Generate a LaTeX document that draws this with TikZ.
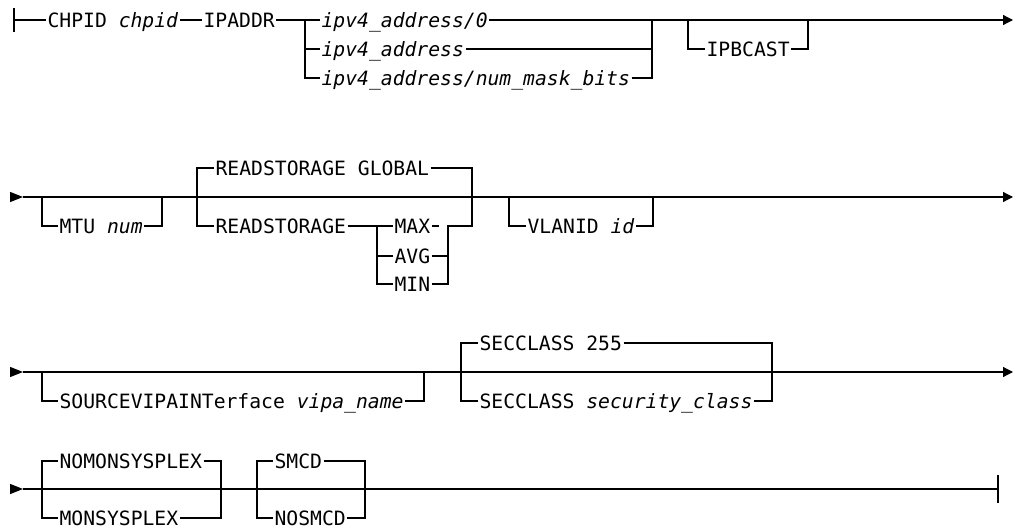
\documentclass[tikz,border=0pt]{standalone}
\usepackage{fontspec}
\newfontfamily\railfont{DejaVu Sans Mono}
\usetikzlibrary{arrows.meta}

\begin{document}
\begin{tikzpicture}[x=1pt,y=-1pt,line width=1.2pt,
  kw/.style={font={\railfont\fontsize{19.7}{20}\selectfont},anchor=west,inner xsep=1pt,inner ysep=0pt,text height=14.4pt,text depth=0pt},
  endtip/.style={-{Triangle[length=10pt,width=10pt]}},
  starttip/.style={-{Triangle[length=13pt,width=10pt]}}]
  \useasboundingbox (0,0) rectangle (1015,527);
  % row 1
  \coordinate (s1) at (14,20); \coordinate (e1) at (1013,20);
  \node[kw] (chpid) at (46,20) {CHPID \textit{chpid}};
  \node[kw] (ipaddr) at (202,20) {IPADDR};
  \node[kw] (ip0) at (320,20) {\textit{ipv4\_address/0}};
  \node[kw] (ip1) at (320,49) {\textit{ipv4\_address}};
  \node[kw] (ip2) at (320,78) {\textit{ipv4\_address/num\_mask\_bits}};
  \coordinate (ipL) at (305,20); \coordinate (ipR) at (652,20);
  \node[kw] (bcast) at (705,49) {IPBCAST};
  \coordinate (bcL) at (688,20); \coordinate (bcR) at (808,20);
  \draw ([yshift=12pt]s1) -- ([yshift=-12pt]s1);
  \draw (s1) -- (chpid.west) (chpid.east) -- (ipaddr.west) (ipaddr.east) -- (ip0.west);
  \draw[endtip] (ip0.east) -- (e1);
  \draw (ipL) |- (ip2.west) (ipL |- ip1.west) -- (ip1.west);
  \draw (ip2.east) -| (ipR) (ip1.east) -- (ipR |- ip1.west);
  \draw (bcL) |- (bcast.west) (bcast.east) -| (bcR);
  % row 2
  \coordinate (a2) at (10,197); \coordinate (b2) at (23,197); \coordinate (e2) at (1013,197);
  \node[kw] (mtu) at (58,226) {MTU \textit{num}};
  \coordinate (mtuL) at (42,197); \coordinate (mtuR) at (162,197);
  \node[kw] (glob) at (214,168) {READSTORAGE GLOBAL};
  \node[kw] (rs) at (214,226) {READSTORAGE};
  \node[kw] (max) at (393,226) {MAX};
  \node[kw] (avg) at (393,256) {AVG};
  \node[kw] (min) at (393,284) {MIN};
  \coordinate (rsL) at (197,226); \coordinate (rsR) at (472,226);
  \coordinate (rsN) at (377,226); \coordinate (rsM) at (448,226);
  \node[kw] (vlan) at (526,226) {VLANID \textit{id}};
  \coordinate (vlL) at (509,197); \coordinate (vlR) at (653,197);
  \draw[starttip] (a2) -- (b2);
  \draw[endtip] (b2) -- (e2);
  \draw (mtuL) |- (mtu.west) (mtu.east) -| (mtuR);
  \draw (glob.west) -| (rsL) -- (rs.west);
  \draw (rs.east) -- (max.west) (rsN) |- (min.west) (rsN |- avg.west) -- (avg.west);
  \draw (max.east) -- ++(7,0);
  \draw (glob.east) -| (rsR) -- (rsM) |- (min.east) (avg.east) -- (avg.east -| rsM);
  \draw (vlL) |- (vlan.west) (vlan.east) -| (vlR);
  % row 3
  \coordinate (a3) at (10,372); \coordinate (b3) at (23,372); \coordinate (e3) at (1013,372);
  \node[kw] (vipa) at (58,401) {SOURCEVIPAINTerface \textit{vipa\_name}};
  \coordinate (viL) at (42,372); \coordinate (viR) at (424,372);
  \node[kw] (sc0) at (478,343) {SECCLASS 255};
  \node[kw] (sc1) at (478,401) {SECCLASS \textit{security\_class}};
  \coordinate (scL) at (461,401); \coordinate (scR) at (772,401);
  \draw[starttip] (a3) -- (b3);
  \draw[endtip] (b3) -- (e3);
  \draw (viL) |- (vipa.west) (vipa.east) -| (viR);
  \draw (sc0.west) -| (scL) -- (sc1.west) (sc0.east) -| (scR) -- (sc1.east);
  % row 4
  \coordinate (a4) at (10,489); \coordinate (b4) at (23,489); \coordinate (e4) at (998,489);
  \node[kw] (nomon) at (58,461) {NOMONSYSPLEX};
  \node[kw] (mon) at (58,518) {MONSYSPLEX};
  \coordinate (moL) at (42,518); \coordinate (moR) at (221,518);
  \node[kw] (smcd) at (273,461) {SMCD};
  \node[kw] (nosmcd) at (273,518) {NOSMCD};
  \coordinate (smL) at (257,518); \coordinate (smR) at (365,518);
  \draw[starttip] (a4) -- (b4);
  \draw (b4) -- (e4);
  \draw ([yshift=14pt]e4) -- ([yshift=-14pt]e4);
  \draw (nomon.west) -| (moL) -- (mon.west) (nomon.east) -| (moR) -- (mon.east);
  \draw (smcd.west) -| (smL) -- (nosmcd.west) (smcd.east) -| (smR) -- (nosmcd.east);
\end{tikzpicture}
\end{document}
